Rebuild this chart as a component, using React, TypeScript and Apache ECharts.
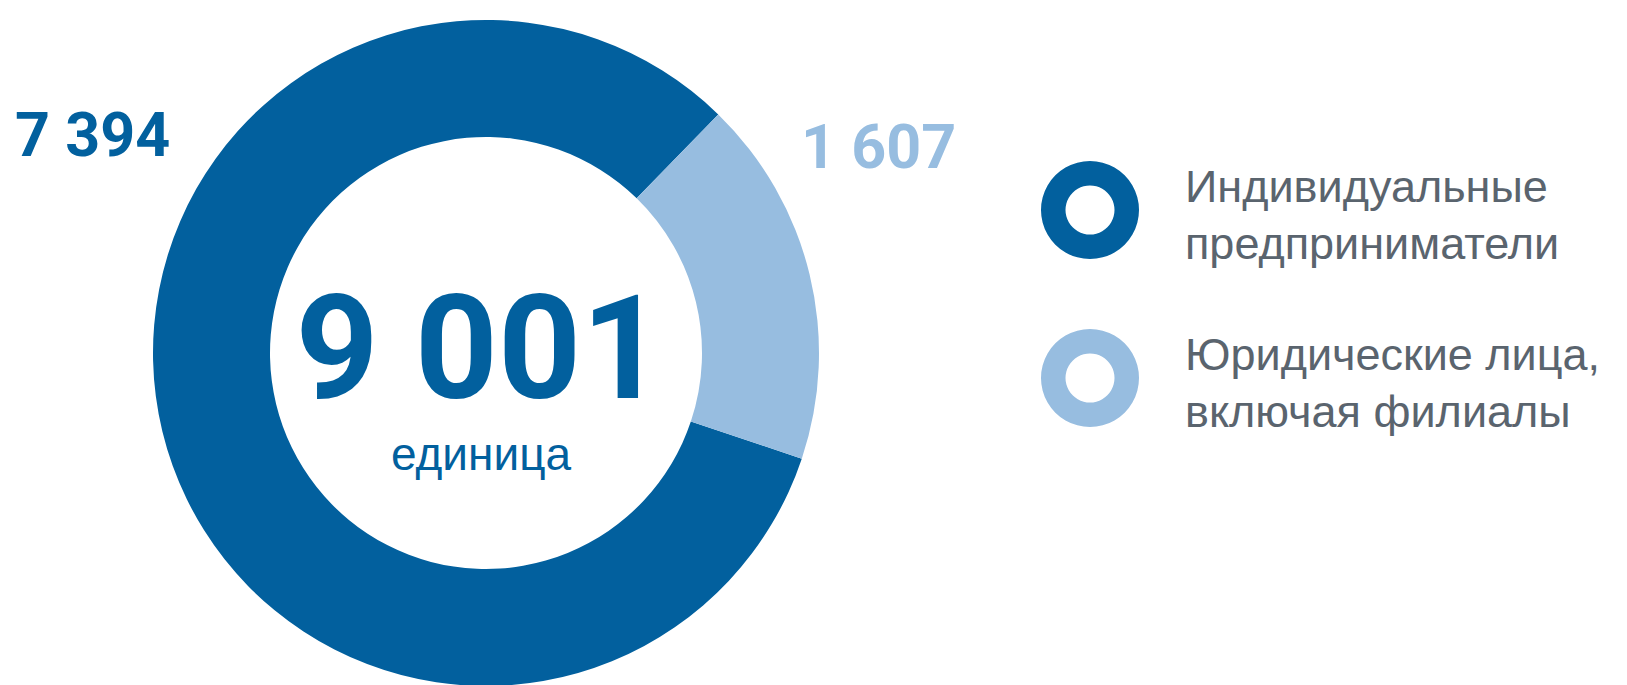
import React, { useEffect, useRef } from "react";
import * as echarts from "echarts";

const categories = ["Индивидуальные\nпредприниматели", "Юридические лица,\nвключая филиалы"];
const values = [7394, 1607];
const colors = ["#02609E", "#97BDE0"];
const unitLabel = "единица";

const fmt = (n: number) => String(n).replace(/\B(?=(\d{3})+(?!\d))/g, " ");

export default function App() {
  const ref = useRef<HTMLDivElement>(null);
  useEffect(() => {
    if (!ref.current) return;
    const chart = echarts.init(ref.current, undefined, { renderer: "svg" });
    const total = values.reduce((a, b) => a + b, 0);
    const font = "'Liberation Sans', Arial, Helvetica, sans-serif";
    const numFont = "Roboto, 'Liberation Sans', Arial, sans-serif";
    const labelPos = [
      { x: 15, y: 135 },
      { x: 801, y: 147 },
    ];
    // legend layout
    const legendLeft = 1041;
    const legendTop = 149;
    const iconSize = 98;
    const textBoxH = 2 * 57 + 8;
    const legendGap = 46;
    const ringCenters = categories.map((_, i) => legendTop + textBoxH / 2 + i * (textBoxH + legendGap));

    chart.setOption({
      animation: false,
      backgroundColor: "#ffffff",
      legend: {
        orient: "vertical",
        left: legendLeft,
        top: legendTop,
        itemWidth: iconSize,
        itemHeight: iconSize,
        itemGap: legendGap,
        icon: "rect",
        data: categories.map((name) => ({
          name,
          itemStyle: { color: "rgba(0,0,0,0)", borderWidth: 0, opacity: 0 },
        })),
        selectedMode: false,
        textStyle: {
          fontFamily: font,
          fontSize: 45,
          lineHeight: 57,
          color: "#5A646E",
          padding: [8, 0, 0, 36],
        },
      },
      graphic: [
        {
          type: "text",
          x: 480,
          y: 348,
          style: {
            text: fmt(total),
            fontFamily: numFont,
            fontWeight: "bold",
            fontSize: 145,
            lineHeight: 110,
            fill: colors[0],
            align: "center",
            verticalAlign: "middle",
          },
        },
        {
          type: "text",
          x: 481,
          y: 454,
          style: {
            text: unitLabel,
            fontFamily: font,
            fontSize: 46,
            lineHeight: 44,
            fill: colors[0],
            align: "center",
            verticalAlign: "middle",
          },
        },
        ...categories.map((_, i) => ({
          type: "ring",
          silent: true,
          shape: {
            cx: legendLeft + iconSize / 2,
            cy: ringCenters[i],
            r: iconSize / 2,
            r0: iconSize / 4,
          },
          style: { fill: colors[i] },
        })),
      ],
      series: [
        {
          type: "pie",
          center: [486, 353],
          radius: [216, 333],
          startAngle: -18.5,
          clockwise: true,
          avoidLabelOverlap: false,
          silent: true,
          itemStyle: { borderWidth: 0 },
          label: {
            show: true,
            position: "outside",
            formatter: (p: any) => fmt(p.value),
            fontFamily: numFont,
            fontWeight: "bold",
            fontSize: 61,
            color: "inherit",
          },
          labelLine: { show: false },
          labelLayout: (p: any) => ({
            x: labelPos[p.dataIndex].x,
            y: labelPos[p.dataIndex].y,
            align: "left",
            verticalAlign: "middle",
          }),
          data: categories.map((name, i) => ({
            name,
            value: values[i],
            itemStyle: { color: colors[i] },
            label: { color: colors[i] },
          })),
        },
      ],
    });
    return () => chart.dispose();
  }, []);
  return (
    <div
      ref={ref}
      style={{ position: "fixed", left: 0, top: 0, width: 1627, height: 685 }}
    />
  );
}
